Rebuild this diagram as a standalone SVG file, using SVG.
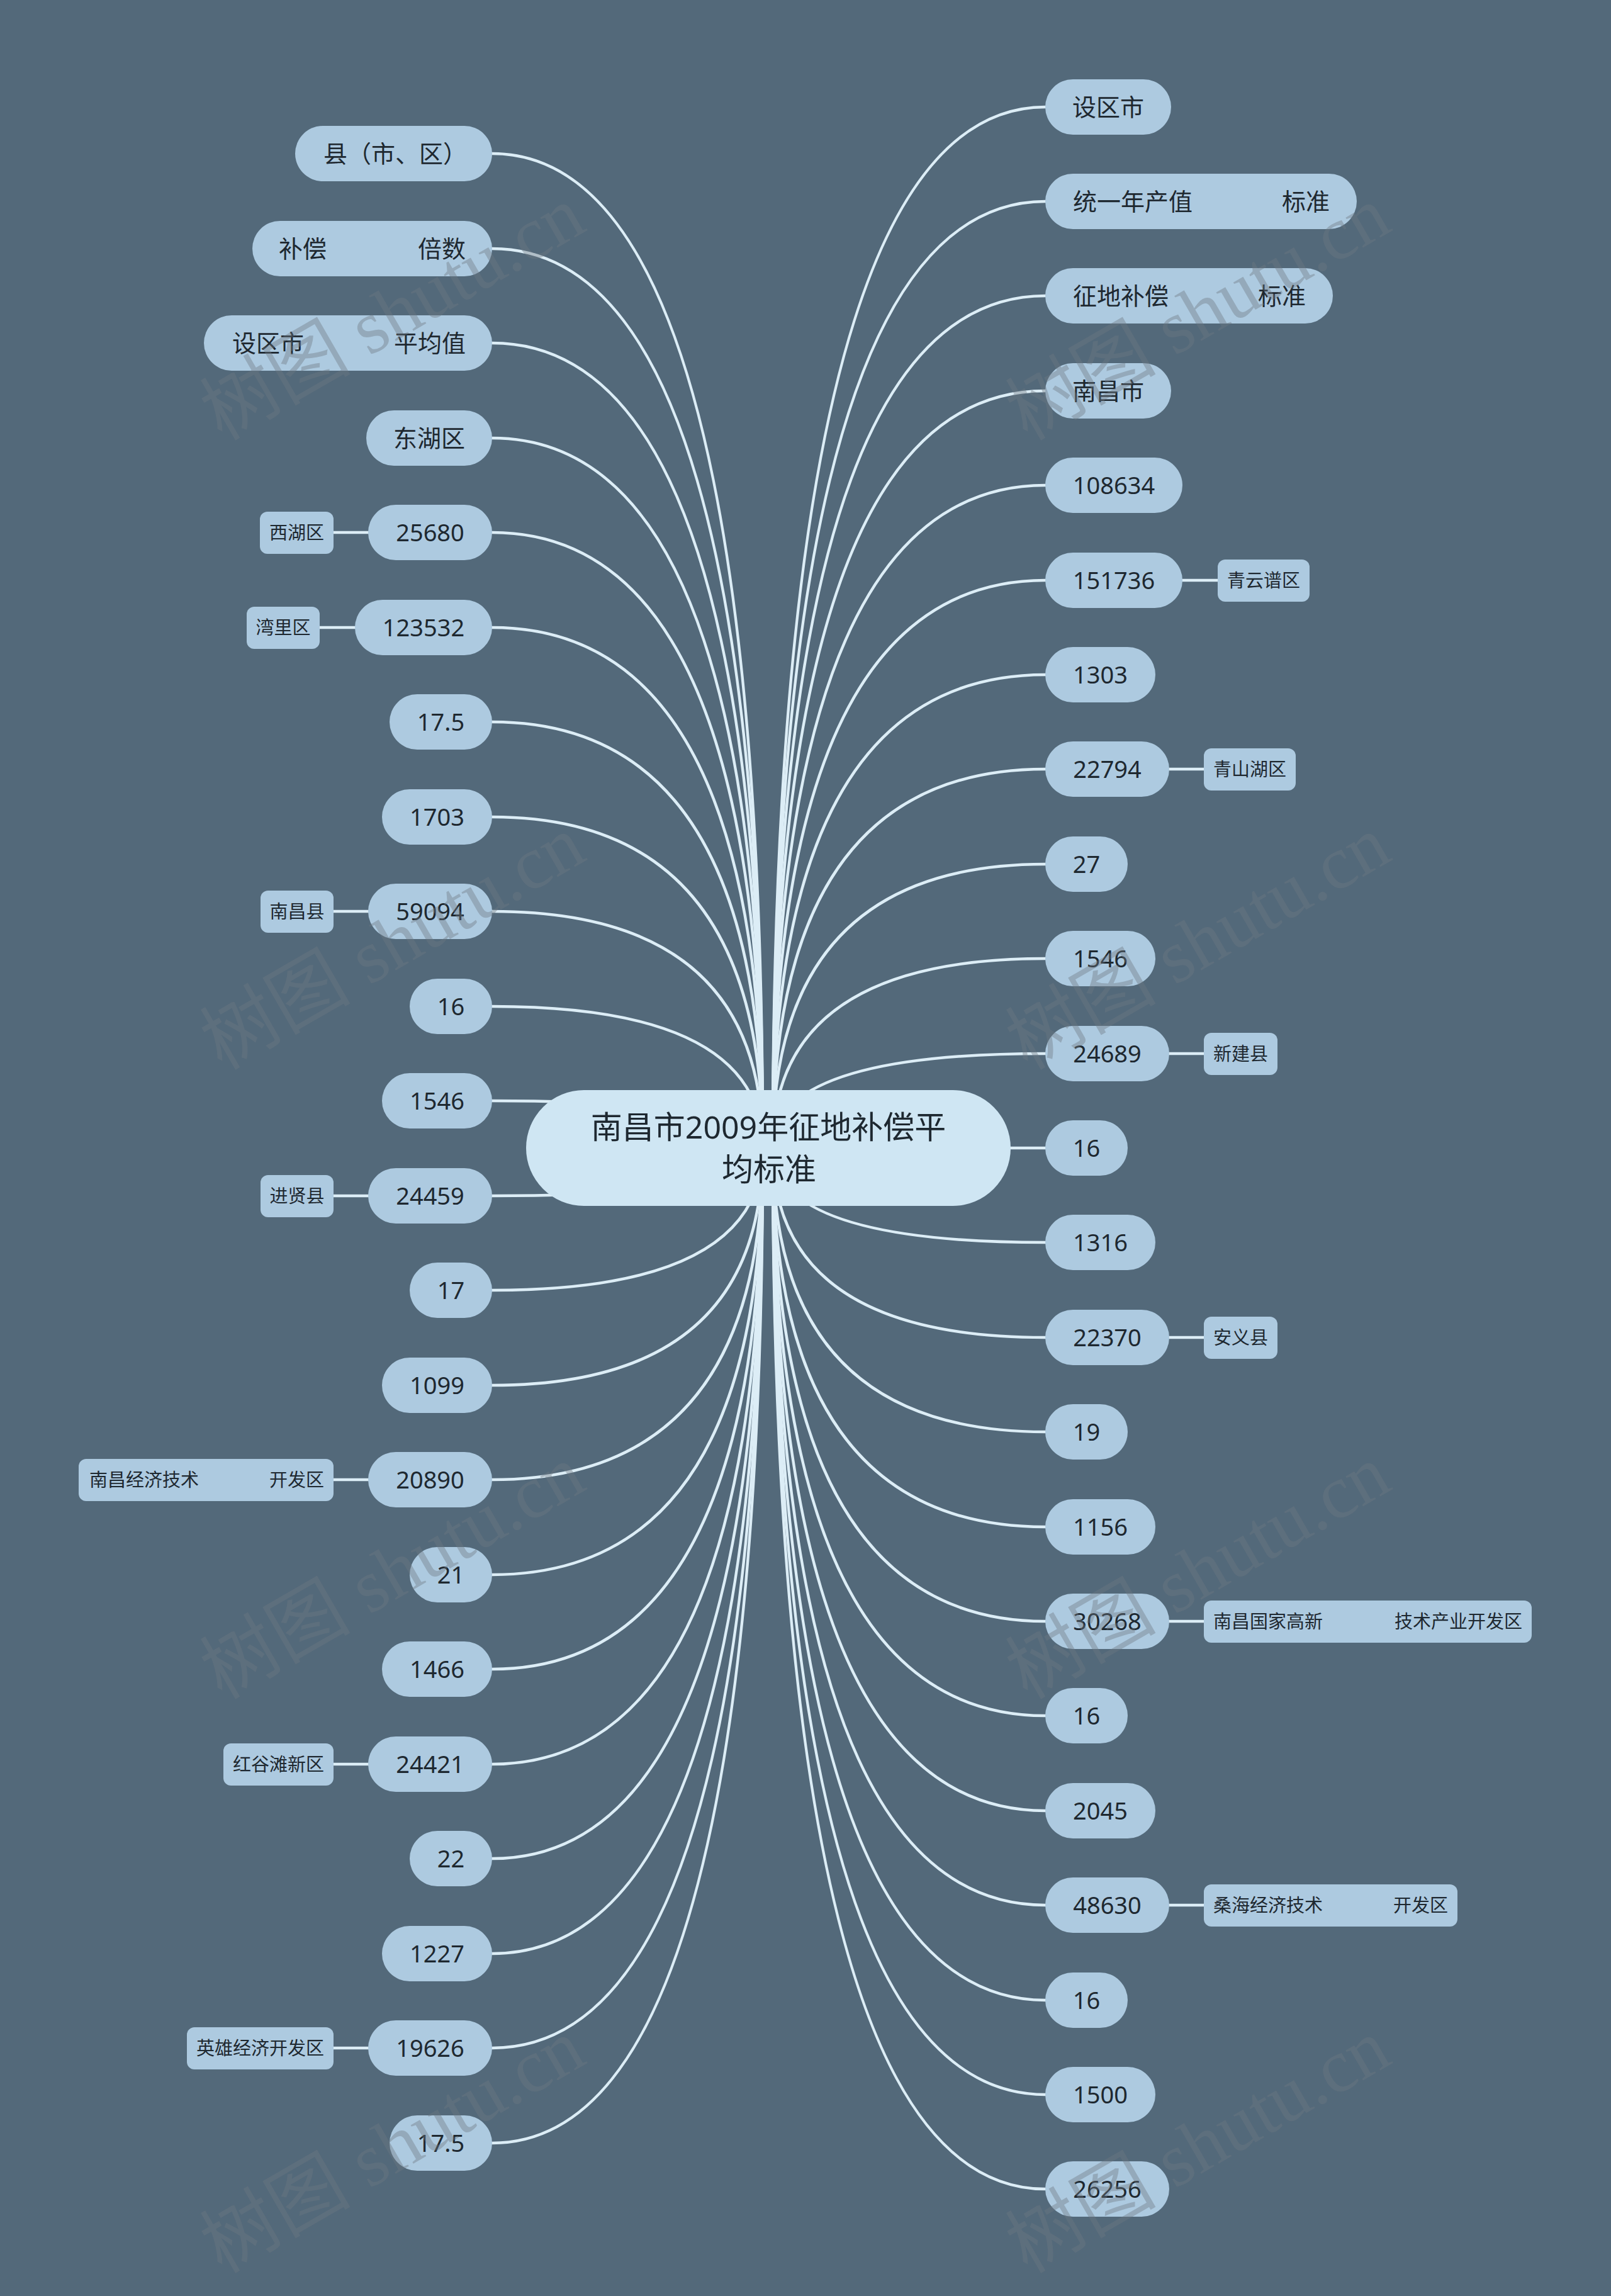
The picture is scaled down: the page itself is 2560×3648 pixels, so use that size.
<svg xmlns="http://www.w3.org/2000/svg" width="2560" height="3648" viewBox="0 0 2560 3648">
<style>
.bg{fill:#53697a}
.c path,.c line{fill:none;stroke:#dcedf6;stroke-width:4.5;stroke-linecap:round}
.m rect{fill:#adcae0}
.s rect{fill:#adcae0}
.m text{font-family:"Noto Sans","Noto Sans CJK SC",sans-serif;font-size:38px;fill:#1e2830;text-anchor:middle}
.m text.l{text-anchor:start}
.s text{font-family:"Noto Sans","Noto Sans CJK SC",sans-serif;font-size:29px;fill:#1e2830;text-anchor:middle}
.s text.l{text-anchor:start}
.root rect{fill:#cfe6f3}
.root text{font-family:"Noto Sans","Noto Sans CJK SC",sans-serif;font-size:50px;fill:#1e2830;text-anchor:middle}
.wm text{font-family:"Liberation Serif","Noto Sans CJK SC",serif;font-size:120px;fill:#6e7882;fill-opacity:0.4;text-anchor:middle}
</style>
<rect class="bg" x="0" y="0" width="2560" height="3648"/>
<g id="connectors" class="c">
<path d="M782,244 Q1212,244 1212,1824"/>
<path d="M782,395 Q1212,395 1212,1824"/>
<path d="M782,545 Q1212,545 1212,1824"/>
<path d="M782,696 Q1212,696 1212,1824"/>
<path d="M782,846 Q1212,846 1212,1824"/>
<path d="M782,997 Q1212,997 1212,1824"/>
<path d="M782,1147 Q1212,1147 1212,1824"/>
<path d="M782,1298 Q1212,1298 1212,1824"/>
<path d="M782,1448 Q1212,1448 1212,1824"/>
<path d="M782,1599 Q1212,1599 1212,1824"/>
<path d="M782,1749 Q1212,1749 1212,1824"/>
<path d="M782,1900 Q1212,1900 1212,1824"/>
<path d="M782,2050 Q1212,2050 1212,1824"/>
<path d="M782,2201 Q1212,2201 1212,1824"/>
<path d="M782,2351 Q1212,2351 1212,1824"/>
<path d="M782,2502 Q1212,2502 1212,1824"/>
<path d="M782,2652 Q1212,2652 1212,1824"/>
<path d="M782,2803 Q1212,2803 1212,1824"/>
<path d="M782,2953 Q1212,2953 1212,1824"/>
<path d="M782,3104 Q1212,3104 1212,1824"/>
<path d="M782,3254 Q1212,3254 1212,1824"/>
<path d="M782,3405 Q1212,3405 1212,1824"/>
<path d="M1661,170 Q1228,170 1228,1824"/>
<path d="M1661,320 Q1228,320 1228,1824"/>
<path d="M1661,470 Q1228,470 1228,1824"/>
<path d="M1661,621 Q1228,621 1228,1824"/>
<path d="M1661,771 Q1228,771 1228,1824"/>
<path d="M1661,922 Q1228,922 1228,1824"/>
<path d="M1661,1072 Q1228,1072 1228,1824"/>
<path d="M1661,1222 Q1228,1222 1228,1824"/>
<path d="M1661,1373 Q1228,1373 1228,1824"/>
<path d="M1661,1523 Q1228,1523 1228,1824"/>
<path d="M1661,1674 Q1228,1674 1228,1824"/>
<path d="M1661,1824 L1228,1824"/>
<path d="M1661,1974 Q1228,1974 1228,1824"/>
<path d="M1661,2125 Q1228,2125 1228,1824"/>
<path d="M1661,2275 Q1228,2275 1228,1824"/>
<path d="M1661,2426 Q1228,2426 1228,1824"/>
<path d="M1661,2576 Q1228,2576 1228,1824"/>
<path d="M1661,2726 Q1228,2726 1228,1824"/>
<path d="M1661,2877 Q1228,2877 1228,1824"/>
<path d="M1661,3027 Q1228,3027 1228,1824"/>
<path d="M1661,3178 Q1228,3178 1228,1824"/>
<path d="M1661,3328 Q1228,3328 1228,1824"/>
<path d="M1661,3478 Q1228,3478 1228,1824"/>
<line x1="530" y1="846" x2="585" y2="846"/>
<line x1="508" y1="997" x2="564" y2="997"/>
<line x1="530" y1="1448" x2="585" y2="1448"/>
<line x1="530" y1="1900" x2="585" y2="1900"/>
<line x1="530" y1="2351" x2="585" y2="2351"/>
<line x1="530" y1="2803" x2="585" y2="2803"/>
<line x1="530" y1="3254" x2="585" y2="3254"/>
<line x1="1879" y1="922" x2="1935" y2="922"/>
<line x1="1858" y1="1222" x2="1913" y2="1222"/>
<line x1="1858" y1="1674" x2="1913" y2="1674"/>
<line x1="1858" y1="2125" x2="1913" y2="2125"/>
<line x1="1858" y1="2576" x2="1913" y2="2576"/>
<line x1="1858" y1="3027" x2="1913" y2="3027"/>
</g>
<g id="root" class="root">
<rect x="836" y="1732" width="770" height="184" rx="92"/>
<text x="1221" y="1809">南昌市2009年征地补偿平</text>
<text x="1222" y="1876">均标准</text>
</g>
<g id="L0" class="m"><rect x="469" y="200" width="313" height="88" rx="44"/><text class="l" x="514" y="258">县（市、区）</text></g>
<g id="L1" class="m"><rect x="401" y="351" width="381" height="88" rx="44"/><text class="l" y="409"><tspan x="443">补偿</tspan><tspan x="664">倍数</tspan></text></g>
<g id="L2" class="m"><rect x="324" y="501" width="458" height="88" rx="44"/><text class="l" y="559"><tspan x="369">设区市</tspan><tspan x="626">平均值</tspan></text></g>
<g id="L3" class="m"><rect x="582" y="652" width="200" height="88" rx="44"/><text x="682" y="710">东湖区</text></g>
<g id="L4" class="m"><rect x="585" y="802" width="197" height="88" rx="44"/><text x="683.5" y="860">25680</text></g>
<g id="L4s" class="s"><rect x="413" y="813" width="117" height="67" rx="12"/><text x="471.5" y="857">西湖区</text></g>
<g id="L5" class="m"><rect x="564" y="953" width="218" height="88" rx="44"/><text x="673" y="1011">123532</text></g>
<g id="L5s" class="s"><rect x="392" y="964" width="116" height="67" rx="12"/><text x="450" y="1008">湾里区</text></g>
<g id="L6" class="m"><rect x="619" y="1103" width="163" height="88" rx="44"/><text x="700.5" y="1161">17.5</text></g>
<g id="L7" class="m"><rect x="607" y="1254" width="175" height="88" rx="44"/><text x="694.5" y="1312">1703</text></g>
<g id="L8" class="m"><rect x="585" y="1404" width="197" height="88" rx="44"/><text x="683.5" y="1462">59094</text></g>
<g id="L8s" class="s"><rect x="414" y="1415" width="116" height="67" rx="12"/><text x="472" y="1459">南昌县</text></g>
<g id="L9" class="m"><rect x="651" y="1555" width="131" height="88" rx="44"/><text x="716.5" y="1613">16</text></g>
<g id="L10" class="m"><rect x="607" y="1705" width="175" height="88" rx="44"/><text x="694.5" y="1763">1546</text></g>
<g id="L11" class="m"><rect x="585" y="1856" width="197" height="88" rx="44"/><text x="683.5" y="1914">24459</text></g>
<g id="L11s" class="s"><rect x="414" y="1867" width="116" height="67" rx="12"/><text x="472" y="1911">进贤县</text></g>
<g id="L12" class="m"><rect x="651" y="2006" width="131" height="88" rx="44"/><text x="716.5" y="2064">17</text></g>
<g id="L13" class="m"><rect x="607" y="2157" width="175" height="88" rx="44"/><text x="694.5" y="2215">1099</text></g>
<g id="L14" class="m"><rect x="585" y="2307" width="197" height="88" rx="44"/><text x="683.5" y="2365">20890</text></g>
<g id="L14s" class="s"><rect x="125" y="2318" width="405" height="67" rx="12"/><text class="l" y="2362"><tspan x="142">南昌经济技术</tspan><tspan x="428">开发区</tspan></text></g>
<g id="L15" class="m"><rect x="651" y="2458" width="131" height="88" rx="44"/><text x="716.5" y="2516">21</text></g>
<g id="L16" class="m"><rect x="607" y="2608" width="175" height="88" rx="44"/><text x="694.5" y="2666">1466</text></g>
<g id="L17" class="m"><rect x="585" y="2759" width="197" height="88" rx="44"/><text x="683.5" y="2817">24421</text></g>
<g id="L17s" class="s"><rect x="355" y="2770" width="175" height="67" rx="12"/><text x="442.5" y="2814">红谷滩新区</text></g>
<g id="L18" class="m"><rect x="651" y="2909" width="131" height="88" rx="44"/><text x="716.5" y="2967">22</text></g>
<g id="L19" class="m"><rect x="607" y="3060" width="175" height="88" rx="44"/><text x="694.5" y="3118">1227</text></g>
<g id="L20" class="m"><rect x="585" y="3210" width="197" height="88" rx="44"/><text x="683.5" y="3268">19626</text></g>
<g id="L20s" class="s"><rect x="297" y="3221" width="233" height="67" rx="12"/><text x="413.5" y="3265">英雄经济开发区</text></g>
<g id="L21" class="m"><rect x="619" y="3361" width="163" height="88" rx="44"/><text x="700.5" y="3419">17.5</text></g>
<g id="R0" class="m"><rect x="1661" y="126" width="200" height="88" rx="44"/><text x="1761" y="184">设区市</text></g>
<g id="R1" class="m"><rect x="1661" y="276" width="495" height="88" rx="44"/><text class="l" y="334"><tspan x="1705">统一年产值</tspan><tspan x="2037">标准</tspan></text></g>
<g id="R2" class="m"><rect x="1661" y="426" width="457" height="88" rx="44"/><text class="l" y="484"><tspan x="1705">征地补偿</tspan><tspan x="1999">标准</tspan></text></g>
<g id="R3" class="m"><rect x="1661" y="577" width="200" height="88" rx="44"/><text x="1761" y="635">南昌市</text></g>
<g id="R4" class="m"><rect x="1661" y="727" width="218" height="88" rx="44"/><text x="1770" y="785">108634</text></g>
<g id="R5" class="m"><rect x="1661" y="878" width="218" height="88" rx="44"/><text x="1770" y="936">151736</text></g>
<g id="R5s" class="s"><rect x="1935" y="889" width="146" height="67" rx="12"/><text x="2008" y="933">青云谱区</text></g>
<g id="R6" class="m"><rect x="1661" y="1028" width="175" height="88" rx="44"/><text x="1748.5" y="1086">1303</text></g>
<g id="R7" class="m"><rect x="1661" y="1178" width="197" height="88" rx="44"/><text x="1759.5" y="1236">22794</text></g>
<g id="R7s" class="s"><rect x="1913" y="1189" width="146" height="67" rx="12"/><text x="1986" y="1233">青山湖区</text></g>
<g id="R8" class="m"><rect x="1661" y="1329" width="131" height="88" rx="44"/><text x="1726.5" y="1387">27</text></g>
<g id="R9" class="m"><rect x="1661" y="1479" width="175" height="88" rx="44"/><text x="1748.5" y="1537">1546</text></g>
<g id="R10" class="m"><rect x="1661" y="1630" width="197" height="88" rx="44"/><text x="1759.5" y="1688">24689</text></g>
<g id="R10s" class="s"><rect x="1913" y="1641" width="117" height="67" rx="12"/><text x="1971.5" y="1685">新建县</text></g>
<g id="R11" class="m"><rect x="1661" y="1780" width="131" height="88" rx="44"/><text x="1726.5" y="1838">16</text></g>
<g id="R12" class="m"><rect x="1661" y="1930" width="175" height="88" rx="44"/><text x="1748.5" y="1988">1316</text></g>
<g id="R13" class="m"><rect x="1661" y="2081" width="197" height="88" rx="44"/><text x="1759.5" y="2139">22370</text></g>
<g id="R13s" class="s"><rect x="1913" y="2092" width="117" height="67" rx="12"/><text x="1971.5" y="2136">安义县</text></g>
<g id="R14" class="m"><rect x="1661" y="2231" width="131" height="88" rx="44"/><text x="1726.5" y="2289">19</text></g>
<g id="R15" class="m"><rect x="1661" y="2382" width="175" height="88" rx="44"/><text x="1748.5" y="2440">1156</text></g>
<g id="R16" class="m"><rect x="1661" y="2532" width="197" height="88" rx="44"/><text x="1759.5" y="2590">30268</text></g>
<g id="R16s" class="s"><rect x="1913" y="2543" width="521" height="67" rx="12"/><text class="l" y="2587"><tspan x="1928">南昌国家高新</tspan><tspan x="2216">技术产业开发区</tspan></text></g>
<g id="R17" class="m"><rect x="1661" y="2682" width="131" height="88" rx="44"/><text x="1726.5" y="2740">16</text></g>
<g id="R18" class="m"><rect x="1661" y="2833" width="175" height="88" rx="44"/><text x="1748.5" y="2891">2045</text></g>
<g id="R19" class="m"><rect x="1661" y="2983" width="197" height="88" rx="44"/><text x="1759.5" y="3041">48630</text></g>
<g id="R19s" class="s"><rect x="1913" y="2994" width="403" height="67" rx="12"/><text class="l" y="3038"><tspan x="1928">桑海经济技术</tspan><tspan x="2214">开发区</tspan></text></g>
<g id="R20" class="m"><rect x="1661" y="3134" width="131" height="88" rx="44"/><text x="1726.5" y="3192">16</text></g>
<g id="R21" class="m"><rect x="1661" y="3284" width="175" height="88" rx="44"/><text x="1748.5" y="3342">1500</text></g>
<g id="R22" class="m"><rect x="1661" y="3434" width="197" height="88" rx="44"/><text x="1759.5" y="3492">26256</text></g>
<g id="watermark" class="wm">
<text x="644" y="533" transform="rotate(-30 644 533)">树图 shutu.cn</text>
<text x="644" y="1533" transform="rotate(-30 644 1533)">树图 shutu.cn</text>
<text x="644" y="2533" transform="rotate(-30 644 2533)">树图 shutu.cn</text>
<text x="644" y="3445" transform="rotate(-30 644 3445)">树图 shutu.cn</text>
<text x="1924" y="533" transform="rotate(-30 1924 533)">树图 shutu.cn</text>
<text x="1924" y="1533" transform="rotate(-30 1924 1533)">树图 shutu.cn</text>
<text x="1924" y="2533" transform="rotate(-30 1924 2533)">树图 shutu.cn</text>
<text x="1924" y="3445" transform="rotate(-30 1924 3445)">树图 shutu.cn</text>
</g>
</svg>
